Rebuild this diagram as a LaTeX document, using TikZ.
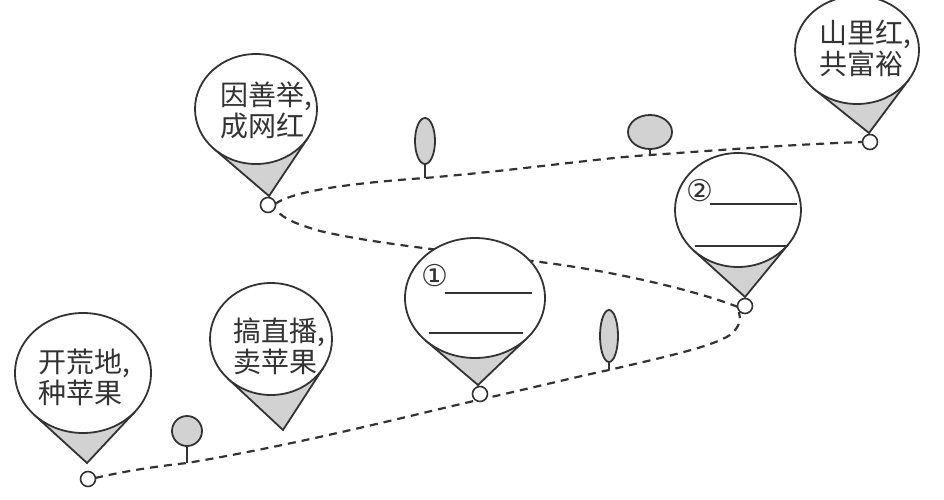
\documentclass[tikz,border=0pt]{standalone}
\usepackage{fontspec}
\newfontfamily\cjk{Noto Sans CJK SC}
\newfontfamily\djv{DejaVu Sans}
\definecolor{inkc}{HTML}{333333}
\definecolor{tailgrey}{HTML}{D2D2D2}
\tikzset{
  pinline/.style={draw=inkc, line width=1.8pt},
  pathdash/.style={draw=inkc, line width=2.2pt, dash pattern=on 8pt off 6pt},
  dotnode/.style={circle, draw=inkc, fill=white, line width=1.6pt, minimum size=15pt, inner sep=0pt},
  treeshape/.style={draw=inkc, fill=tailgrey, line width=1.8pt},
  stemline/.style={draw=inkc, line width=1.8pt},
  pintext/.style={font=\cjk\fontsize{28}{31}\selectfont, text=inkc, align=left, inner sep=0pt},
  numtext/.style={font=\djv\fontsize{30}{30}\selectfont, text=inkc, inner sep=0pt},
  blankline/.style={draw=inkc, line width=1.8pt}
}
\newcommand{\mypin}[7]{%
  \pgfmathsetmacro\pa{#6-#2}%
  \pgfmathsetmacro\pb{(#7-#3)*#4/#5}%
  \pgfmathsetmacro\pd{sqrt(\pa*\pa+\pb*\pb)}%
  \pgfmathsetmacro\al{atan2(\pb,\pa)}%
  \pgfmathsetmacro\be{acos(#4/\pd)}%
  \coordinate (#1-tip) at (#6,#7);
  \coordinate (#1-ta) at ({#2+#4*cos(\al+\be)},{#3+#5*sin(\al+\be)});
  \coordinate (#1-tb) at ({#2+#4*cos(\al-\be)},{#3+#5*sin(\al-\be)});
  \coordinate (#1-c) at (#2,#3);
  \fill[tailgrey] (#1-tip) -- (#1-ta) -- (#1-tb) -- cycle;
  \draw[pinline, line join=miter] (#1-ta) -- (#1-tip) -- (#1-tb);
  \filldraw[pinline, fill=white] (#1-c) ellipse [x radius=#4, y radius=#5];
}
\begin{document}
\begin{tikzpicture}[x=1pt, y=-1pt]
\useasboundingbox (0,0) rectangle (944,500);
% dots (positions)
\coordinate (p1) at (88,479);
\coordinate (p3) at (268,205);
\coordinate (p4) at (480,394);
\coordinate (p5) at (745,306);
\coordinate (p6) at (870,142);
% path
\draw[pathdash] (p1) ++(7,-1) .. controls (130,470) and (160,466) .. (187,463)
  .. controls (300,444) and (400,418) .. (478,400)
  .. controls (540,386) and (580,376) .. (609,370)
  .. controls (660,358) and (712,347) .. (730,335)
  .. controls (740,327) and (741,319) .. (739,312);
\draw[pathdash] (738,307) .. controls (700,292) and (620,272) .. (540,262)
  .. controls (470,253) and (380,245) .. (320,231)
  .. controls (296,224) and (284,219) .. (276,210);
\draw[pathdash] (275,204) .. controls (292,192) and (340,184) .. (425,178)
  .. controls (520,170) and (600,158) .. (650,155)
  .. controls (720,150) and (800,144) .. (863,142);
% trees
\draw[stemline] (187,446) -- (187,463);
\filldraw[treeshape] (187,431) circle [radius=15];
\draw[stemline] (425,162) -- (425,178);
\filldraw[treeshape] (425,141) ellipse [x radius=10, y radius=23];
\draw[stemline] (609,360) -- (609,370);
\filldraw[treeshape] (609,336) ellipse [x radius=9, y radius=26];
\draw[stemline] (650,148) -- (650,155);
\filldraw[treeshape] (650,132) ellipse [x radius=22, y radius=17];
% pins
\mypin{a}{83}{373}{68}{60}{87}{463}
\mypin{b}{271}{339}{61}{56}{283}{430}
\mypin{c}{256}{109}{61}{55}{269}{196}
\mypin{d}{475}{298}{70}{60}{478}{385}
\mypin{e}{738}{210}{63}{57}{745}{297}
\mypin{f}{857}{50}{62}{54}{869}{133}
% dots
\node[dotnode] (d1) at (p1) {};
\node[dotnode] (d3) at (p3) {};
\node[dotnode] (d4) at (p4) {};
\node[dotnode] (d5) at (p5) {};
\node[dotnode] (d6) at (p6) {};
% texts
\node[pintext] (ta) at (84,377) {开荒地,\\种苹果};
\node[pintext] (tb) at (279,346) {搞直播,\\卖苹果};
\node[pintext] (tc) at (266,110) {因善举,\\成网红};
\node[pintext] (tf) at (865,48) {山里红,\\共富裕};
\node[numtext] (n1) at (435,276) {①};
\node[numtext] (n2) at (700,191) {②};
\draw[blankline] (445,293) -- (532,293);
\draw[blankline] (429,333) -- (523,333);
\draw[blankline] (710,204) -- (797,204);
\draw[blankline] (695,246) -- (788,246);
\end{tikzpicture}
\end{document}
